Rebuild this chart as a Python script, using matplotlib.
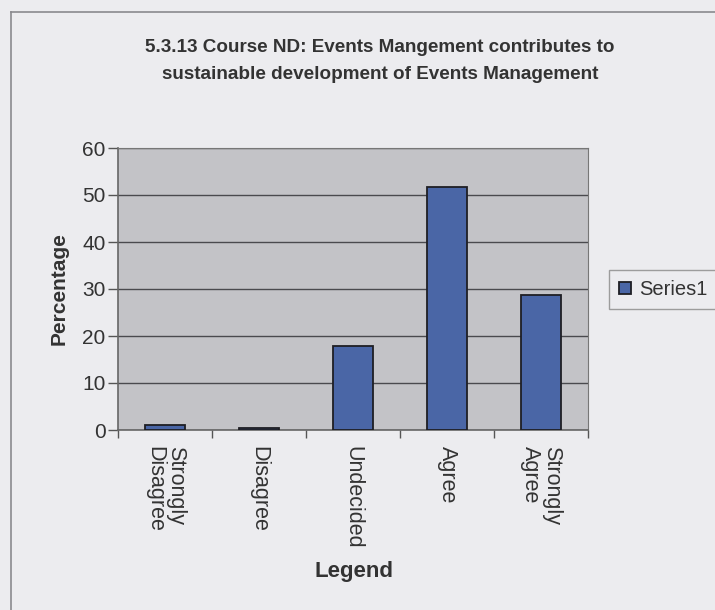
import matplotlib
matplotlib.use('Agg')
import matplotlib.pyplot as plt
import numpy as np

plt.rcParams['font.family'] = ['Liberation Sans', 'DejaVu Sans']

categories = ['Strongly\nDisagree', 'Disagree', 'Undecided', 'Agree', 'Strongly\nAgree']
values = [1.1, 0.4, 17.8, 51.6, 28.8]
series_name = 'Series1'
title = ('5.3.13 Course ND: Events Mangement contributes to\n'
         'sustainable development of Events Management')

bg = '#ececef'
plot_bg = '#c3c3c7'
bar_color = '#4a66a6'
text_color = '#333333'

fig = plt.figure(figsize=(7.15, 6.1), dpi=100, facecolor=bg)

# chart-area border (left/top only visible in the scan)
fig.add_artist(plt.Line2D([11/715, 11/715], [0, 1 - 12/610], transform=fig.transFigure,
                          color='#8a8a8e', lw=1.2))
fig.add_artist(plt.Line2D([11/715, 1], [1 - 12/610, 1 - 12/610], transform=fig.transFigure,
                          color='#8a8a8e', lw=1.2))

ax = fig.add_axes([118/715, 1 - 430/610, 470/715, 282/610])
ax.set_facecolor(plot_bg)

x = np.arange(len(categories))
ax.bar(x, values, width=0.42, color=bar_color, edgecolor='#1e1e24', linewidth=1.3,
       label=series_name, zorder=3)

ax.set_xlim(-0.5, len(categories) - 0.5)
ax.set_ylim(0, 60)
ax.set_yticks(np.arange(0, 61, 10))
ax.yaxis.grid(True, color='#4a4a4e', linewidth=1.0, zorder=1)
ax.set_axisbelow(True)

ax.set_xticks(np.arange(-0.5, len(categories), 1.0))
ax.set_xticklabels([''] * (len(categories) + 1))
ax.tick_params(axis='x', length=6, color='#555555', width=1)
ax.tick_params(axis='y', length=7, color='#555555', width=1, labelsize=15,
               labelcolor=text_color, pad=2)

for xi, lab in zip(x, categories):
    ax.text(xi, -3.4, lab, rotation=270, ha='center', va='top', fontsize=15.5,
            color=text_color, multialignment='left', linespacing=1.0)

for side in ['top', 'right']:
    ax.spines[side].set_color('#777777')
for side in ['left', 'bottom']:
    ax.spines[side].set_color('#666666')
    ax.spines[side].set_linewidth(1.2)

ax.set_ylabel('Percentage', fontsize=15, fontweight='bold', color=text_color, labelpad=10)
fig.text(354/715, 1 - 572/610, 'Legend', ha='center', va='center', fontsize=16,
         fontweight='bold', color=text_color)

fig.text(380/715, 1 - 61/610, title, ha='center', va='center', fontsize=13.6,
         fontweight='bold', color=text_color, linespacing=1.8)

leg = fig.legend(loc='upper left', bbox_to_anchor=(609/715, 1 - 270/610), fontsize=14.5,
                 frameon=True, fancybox=False, handlelength=0.6, handleheight=0.6,
                 handletextpad=0.4, borderpad=0.5, borderaxespad=0,
                 labelcolor=text_color)
leg.get_frame().set_edgecolor('#888888')
leg.get_frame().set_facecolor(bg)

fig.savefig('out.png', dpi=100, facecolor=bg)
